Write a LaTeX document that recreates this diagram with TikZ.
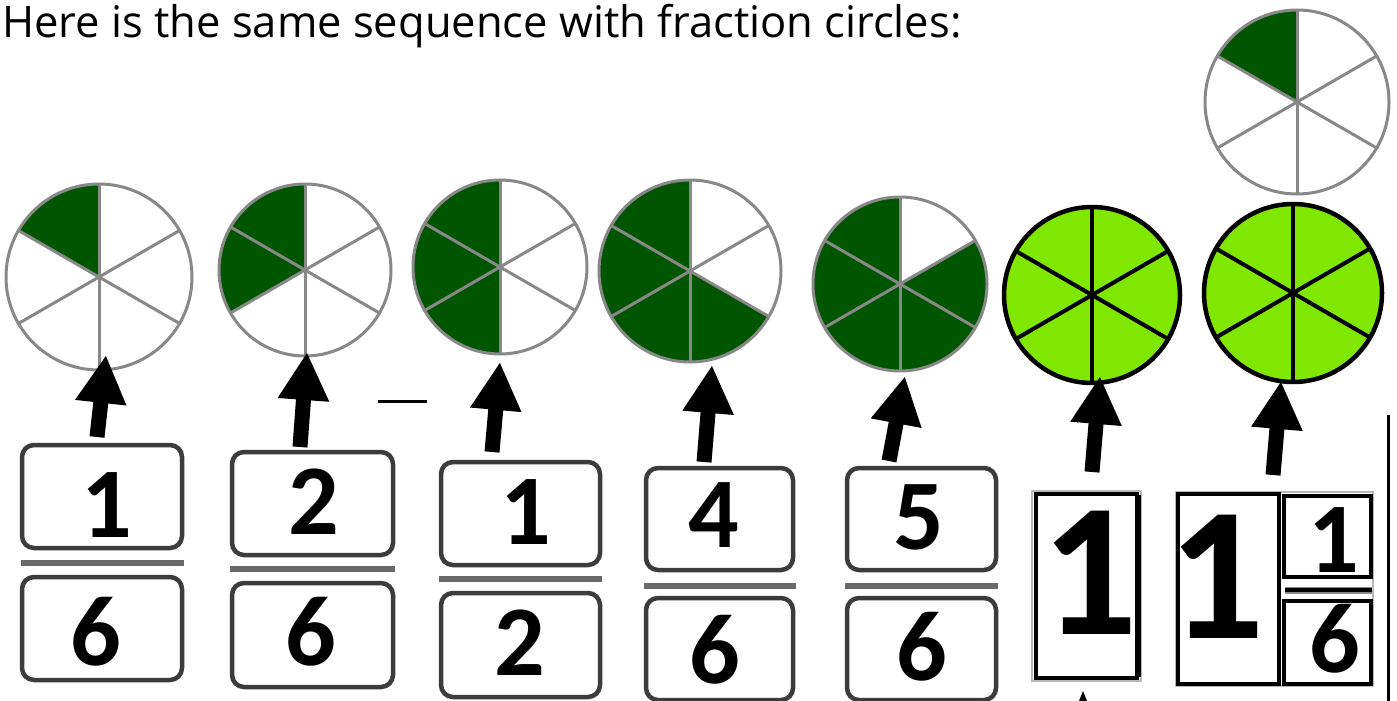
\documentclass[tikz,border=0pt]{standalone}
\usepackage{fontspec}
\setmainfont{Carlito}
\newfontfamily\titlefont{Open Sans}
\usetikzlibrary{arrows.meta}
\definecolor{dkgreen}{RGB}{0,85,0}
\definecolor{limegreen}{RGB}{128,232,0}
\definecolor{rim}{RGB}{136,136,136}
\definecolor{boxline}{RGB}{60,60,60}
\definecolor{barline}{RGB}{105,105,105}
\tikzset{
  fracbox/.style={draw=boxline,line width=4.5pt,rounded corners=12pt,inner sep=0pt},
  digit/.style={inner sep=0pt,font=\bfseries\fontsize{100}{100}\selectfont},
  bigdigit/.style={inner sep=0pt,font=\bfseries\fontsize{190}{190}\selectfont},
  fracbar/.style={barline,line width=6pt},
  upar/.style={black,line width=15pt,-{Triangle[width=48pt,length=48pt]}},
  sqbox/.style={draw=black,line width=4.5pt,inner sep=0pt},
}
\newcommand\wheel[5]{%
  \node[circle,inner sep=0pt,minimum size={2*#4pt}] (#1) at (#2,-#3) {};
  \fill[dkgreen] (#1.center) -- ++(90:#4) arc[start angle=90,end angle=#5,radius=#4] -- cycle;
  \foreach \a in {30,90,...,330} \draw[rim,line width=3pt] (#1.center) -- ++(\a:#4);
  \draw[rim,line width=3pt] (#1.center) circle[radius=#4];
}
\newcommand\limewheel[4]{%
  \node[circle,inner sep=0pt,minimum size={2*#4pt}] (#1) at (#2,-#3) {};
  \fill[limegreen] (#1.center) circle[radius=#4];
  \foreach \a in {30,90,...,330} \draw[black,line width=4pt] (#1.center) -- ++(\a:#4);
  \draw[black,line width=4.5pt] (#1.center) circle[radius=#4];
}
\newcommand\fracpair[9]{% name, cx, w, ytop-center, htop, ybot-center, hbot, bar y, bar half width
  \node[fracbox,minimum width=#3pt,minimum height=#5pt] (#1t) at (#2,-#4) {};
  \node[fracbox,minimum width=#3pt,minimum height=#7pt] (#1b) at (#2,-#6) {};
  \coordinate (#1l) at (#2-#9,-#8);
  \coordinate (#1r) at (#2+#9,-#8);
  \draw[fracbar] (#1l) -- (#1r);
}
\begin{document}
\begin{tikzpicture}[x=1pt,y=1pt]
\useasboundingbox (0,0) rectangle (1397,-701);
\fill[white] (0,0) rectangle (1397,-701);

\node[anchor=base west,inner sep=0pt,font=\titlefont\fontsize{43.5}{43.5}\selectfont] (title) at (2,-38) {Here is the same sequence with fraction circles:};

% wheels
\wheel{w1}{99}{277}{93}{150}
\wheel{w2}{305}{270}{86}{210}
\wheel{w3}{500}{267}{87}{270}
\wheel{w4}{690}{271}{91}{330}
\wheel{w5}{900}{284}{87}{390}
\limewheel{w6}{1092}{295}{88}
\limewheel{w7}{1293}{293}{89}
\wheel{w8}{1297}{102}{92}{150}

% fractions
\fracpair{f1}{102}{160}{496.5}{103}{628.5}{103}{563}{81.5}
\fracpair{f2}{312.5}{161}{503.5}{103}{635}{104}{569}{82.5}
\fracpair{f3}{520.5}{159}{513.5}{103}{645}{104}{579}{81.5}
\fracpair{f4}{719.5}{147}{519}{102}{649}{102}{586}{76}
\fracpair{f5}{921.5}{149}{519}{102}{649}{102}{586}{76.5}

\node[digit] (d1n) at (107,-505) {1};
\node[digit] (d1d) at (96,-632) {6};
\node[digit] (d2n) at (314,-502) {2};
\node[digit] (d2d) at (311,-632) {6};
\node[digit] (d3n) at (526,-512) {1};
\node[digit] (d3d) at (520,-643) {2};
\node[digit] (d4n) at (714,-515) {4};
\node[digit] (d4d) at (715,-650) {6};
\node[digit] (d5n) at (919,-517) {5};
\node[digit] (d5d) at (922,-647) {6};

% whole 1
\draw[rim!60,line width=2pt] (1032,-491) rectangle (1141,-681);
\node[sqbox,minimum width=101pt,minimum height=184pt] (one) at (1086.5,-586) {};
\draw[black,line width=3pt] (1139,-495) -- (1139,-677);
\node[bigdigit] (oned) at (1090,-573) {1};
\fill[black] (1079,-701) -- (1083,-691) -- (1087,-701) -- cycle;

% mixed number
\draw[rim!60,line width=2pt] (1176,-492) rectangle (1373,-686);
\node[sqbox,minimum width=101pt,minimum height=190pt] (mw) at (1228.5,-589) {};
\node[sqbox,minimum width=87pt,minimum height=81pt] (mt) at (1327.5,-536.5) {};
\node[sqbox,minimum width=87pt,minimum height=83pt] (mb) at (1327.5,-642.5) {};
\node[bigdigit] (mwd) at (1217,-577) {1};
\node[digit] (mtd) at (1334,-540) {1};
\node[digit] (mbd) at (1335,-639) {6};
\coordinate (mbl) at (1285,-590);
\coordinate (mbr) at (1372,-590);
\draw[rim,line width=7pt] (mbl) -- (mbr);
\draw[black,line width=4pt] (mbl) -- (mbr);

% lines
\coordinate (vl1) at (1388,-415);
\coordinate (vl2) at (1388,-701);
\draw[black,line width=3pt] (vl1) -- (vl2);
\coordinate (hl1) at (378,-401);
\coordinate (hl2) at (427,-401);
\draw[black,line width=3pt] (hl1) -- (hl2);

% arrows
\coordinate (a1s) at (97,-437);  \coordinate (a1e) at (106,-355);
\coordinate (a2s) at (300,-447); \coordinate (a2e) at (307,-352);
\coordinate (a3s) at (492,-452); \coordinate (a3e) at (500,-362);
\coordinate (a4s) at (704,-462); \coordinate (a4e) at (712,-365);
\coordinate (a5s) at (889,-461); \coordinate (a5e) at (905,-376);
\coordinate (a6s) at (1092,-472); \coordinate (a6e) at (1100,-376);
\coordinate (a7s) at (1273,-475); \coordinate (a7e) at (1281,-381);
\foreach \i in {1,...,7} \draw[upar] (a\i s) -- (a\i e);
\end{tikzpicture}
\end{document}
